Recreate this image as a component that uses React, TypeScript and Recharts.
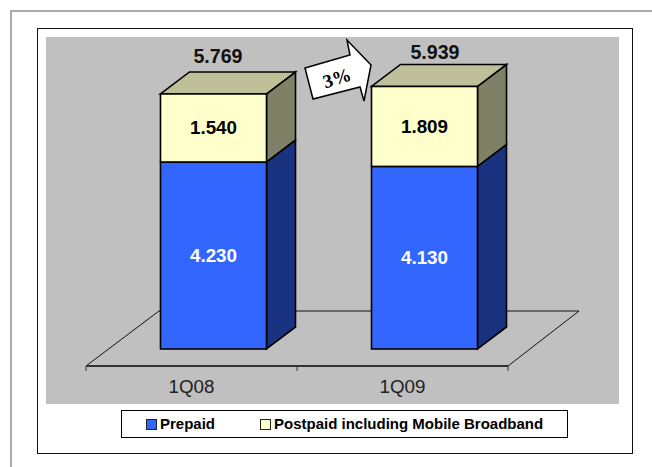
import React from "react";
import { ComposedChart, Bar, Line, XAxis, YAxis, LabelList, Legend } from "recharts";

// Subscribers per quarter, in millions
const quarters = ["1Q08", "1Q09"];
const prepaid = [4.23, 4.13];
const postpaid = [1.54, 1.809];
const totals = [5.769, 5.939];
const growthLabel = "3%";

const rows = quarters.map((quarter, i) => ({
  quarter,
  prepaid: prepaid[i],
  postpaid: postpaid[i],
  total: totals[i],
}));

const WIDTH = 652;
const HEIGHT = 467;
const AXIS_LEFT = 86;
const AXIS_RIGHT = 508;
const AXIS_Y = 366;
const PLOT_TOP = 37;
const BAND = (AXIS_RIGHT - AXIS_LEFT) / quarters.length;

// Oblique projection of the columns
const DEPTH_X = 29;
const DEPTH_Y = 22;
const COLUMN_SHIFT = 21.5;

// Hand placement of the total above each column
const TOTAL_NUDGE = [
  { dx: 5, lift: 38 },
  { dx: 11, lift: 34 },
];

const FONT = '"Liberation Sans", Arial, sans-serif';
const EDGE = "#000000";

const prism = (front: string, side: string, top?: string) => (props: any) => {
  const { x, y, width, height } = props;
  const left = x + COLUMN_SHIFT;
  const right = left + width;
  const bottom = y + height;
  return (
    <g stroke={EDGE} strokeWidth={1.6} strokeLinejoin="miter">
      <polygon
        fill={side}
        points={`${right},${y} ${right + DEPTH_X},${y - DEPTH_Y} ${right + DEPTH_X},${bottom - DEPTH_Y} ${right},${bottom}`}
      />
      {top && (
        <polygon
          fill={top}
          points={`${left},${y} ${left + DEPTH_X},${y - DEPTH_Y} ${right + DEPTH_X},${y - DEPTH_Y} ${right},${y}`}
        />
      )}
      <rect x={left} y={y} width={width} height={height} fill={front} />
    </g>
  );
};

const segmentLabel = (color: string) => (props: any) => {
  const { x, y, width, height, value } = props;
  return (
    <text
      x={x + width / 2 + COLUMN_SHIFT}
      y={y + height / 2}
      textAnchor="middle"
      dominantBaseline="central"
      fontFamily={FONT}
      fontWeight="bold"
      fontSize={18.8}
      fill={color}
    >
      {Number(value).toFixed(3)}
    </text>
  );
};

const totalLabel = (props: any) => {
  const { x, y, value, index } = props;
  const nudge = TOTAL_NUDGE[index] ?? TOTAL_NUDGE[0];
  return (
    <text
      x={x + COLUMN_SHIFT + nudge.dx}
      y={y - nudge.lift}
      textAnchor="middle"
      dominantBaseline="central"
      fontFamily={FONT}
      fontWeight="bold"
      fontSize={19.6}
      fill="#111111"
    >
      {Number(value).toFixed(3)}
    </text>
  );
};

// Axis labels sit under the band centre, tick marks on the band edges
const QuarterTick = (props: any) => {
  const { x, payload, index } = props;
  return (
    <g>
      <line x1={x - BAND / 2} x2={x - BAND / 2} y1={AXIS_Y} y2={AXIS_Y + 5} stroke="#333333" />
      {index === quarters.length - 1 && (
        <line x1={x + BAND / 2} x2={x + BAND / 2} y1={AXIS_Y} y2={AXIS_Y + 5} stroke="#333333" />
      )}
      <text
        x={x}
        y={AXIS_Y + 20}
        textAnchor="middle"
        dominantBaseline="central"
        fontFamily={FONT}
        fontSize={18.8}
        fill="#222222"
      >
        {payload.value}
      </text>
    </g>
  );
};

const legendItems = [
  { label: "Prepaid", color: "#3366FF", swatchLeft: 24, textLeft: 38 },
  { label: "Postpaid including Mobile Broadband", color: "#FFFFCC", swatchLeft: 138, textLeft: 152 },
];

const LegendBox = () => (
  <div
    style={{
      position: "relative",
      width: 445,
      height: 26,
      border: "1px solid #000",
      background: "#fff",
      boxSizing: "content-box",
      fontFamily: FONT,
      fontWeight: "bold",
      fontSize: 15,
      color: "#000",
    }}
  >
    {legendItems.map((item) => (
      <React.Fragment key={item.label}>
        <span
          style={{
            position: "absolute",
            left: item.swatchLeft,
            top: 8,
            width: 9,
            height: 9,
            background: item.color,
            border: "1px solid #222",
          }}
        />
        <span
          style={{
            position: "absolute",
            left: item.textLeft,
            top: 4,
            lineHeight: "17px",
            whiteSpace: "nowrap",
          }}
        >
          {item.label}
        </span>
      </React.Fragment>
    ))}
  </div>
);

const box = (left: number, top: number, width: number, height: number, extra: React.CSSProperties) => (
  <div style={{ position: "absolute", left, top, width, height, boxSizing: "border-box", ...extra }} />
);

export default function App() {
  return (
    <div style={{ position: "absolute", left: 0, top: 0, width: WIDTH, height: HEIGHT, overflow: "hidden", background: "#fff" }}>
      {/* Page frame: only the top and left edges are ruled */}
      {box(10, 10, 642, 2, { background: "#a9a9a9" })}
      {box(10, 10, 2, 457, { background: "#a9a9a9" })}
      {box(37, 28, 596, 426, { border: "1px solid #111", background: "#fff" })}
      {box(46, 37, 573, 367, { background: "#C0C0C0" })}

      {/* Floor of the chart, behind the columns */}
      <svg width={WIDTH} height={HEIGHT} style={{ position: "absolute", left: 0, top: 0 }}>
        <polyline
          points={`${AXIS_LEFT},${AXIS_Y} 159,311 579,311 ${AXIS_RIGHT},${AXIS_Y}`}
          fill="none"
          stroke="#111"
          strokeWidth={1}
        />
      </svg>

      <div style={{ position: "absolute", left: 0, top: 0 }}>
        <ComposedChart
          width={WIDTH}
          height={HEIGHT}
          data={rows}
          margin={{ top: PLOT_TOP, right: WIDTH - AXIS_RIGHT, bottom: 0, left: AXIS_LEFT }}
          barCategoryGap={0}
        >
          <XAxis
            dataKey="quarter"
            axisLine={{ stroke: "#333333", strokeWidth: 2 }}
            tickLine={false}
            tick={<QuarterTick />}
            height={HEIGHT - AXIS_Y}
            interval={0}
          />
          <YAxis hide domain={[-0.385, 7.058]} allowDataOverflow />
          <Bar
            dataKey="prepaid"
            stackId="subs"
            barSize={106}
            isAnimationActive={false}
            shape={prism("#3366FF", "#1A3380")}
          >
            <LabelList dataKey="prepaid" content={segmentLabel("#FFFFFF")} />
          </Bar>
          <Bar
            dataKey="postpaid"
            stackId="subs"
            barSize={106}
            isAnimationActive={false}
            shape={prism("#FFFFCC", "#808066", "#BFBF9A")}
          >
            <LabelList dataKey="postpaid" content={segmentLabel("#000000")} />
          </Bar>
          <Line dataKey="total" stroke="none" dot={false} legendType="none" isAnimationActive={false}>
            <LabelList dataKey="total" content={totalLabel} />
          </Line>
          <Legend
            content={<LegendBox />}
            layout="horizontal"
            verticalAlign="middle"
            align="center"
            wrapperStyle={{ position: "absolute", left: 121, top: 410, width: 447, height: 28, bottom: "auto" }}
          />
        </ComposedChart>
      </div>

      {/* Year-on-year growth callout */}
      <svg width={WIDTH} height={HEIGHT} style={{ position: "absolute", left: 0, top: 0 }}>
        <polygon
          points="305,68 350,55 347,40 371,65 364,101 360,87 313,99"
          fill="#fff"
          stroke="#000"
          strokeWidth={1.5}
        />
        <text
          x={337}
          y={78}
          transform="rotate(-17 337 78)"
          textAnchor="middle"
          dominantBaseline="central"
          fontFamily='"Liberation Serif", "Times New Roman", serif'
          fontWeight="bold"
          fontSize={19}
          fill="#000"
        >
          {growthLabel}
        </text>
      </svg>
    </div>
  );
}
